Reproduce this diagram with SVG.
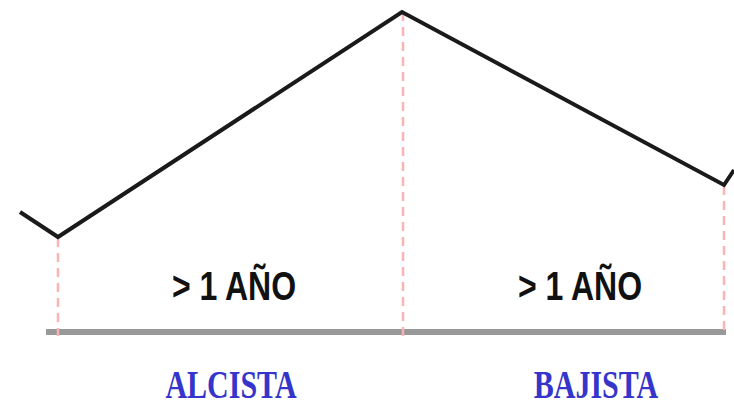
<svg xmlns="http://www.w3.org/2000/svg" width="734" height="406" viewBox="0 0 734 406">
<style>
.trend{fill:none;stroke:#1a1a1a;stroke-width:4;stroke-linejoin:miter}
.guide{stroke:#fbb4b4;stroke-width:2.5;stroke-dasharray:9,6}
.base{stroke:#999;stroke-width:6}
.dur{font-family:"Liberation Sans",Arial,sans-serif;font-weight:bold;font-size:32px;fill:#111;text-anchor:middle}
.phase{font-family:"Liberation Serif","Times New Roman",serif;font-weight:bold;font-size:30px;fill:#3535cc;text-anchor:middle}
</style>
<rect width="734" height="406" fill="#fff"/>
<g id="connectors">
<line class="base" x1="46" y1="332" x2="726" y2="332"/>
<line class="guide" x1="58" y1="238" x2="58" y2="336"/>
<line class="guide" x1="403" y1="12" x2="403" y2="336"/>
<line class="guide" x1="724" y1="186" x2="724" y2="336"/>
<polyline class="trend" points="20,212 58,237 402,12 724,185 734,170"/>
</g>
<g id="label-alcista-duration"><text class="dur" transform="translate(234,300) scale(1,1.25)">&gt; 1 AÑO</text></g>
<g id="label-bajista-duration"><text class="dur" transform="translate(580,300) scale(1,1.25)">&gt; 1 AÑO</text></g>
<g id="label-alcista"><text class="phase" transform="translate(231,398) scale(1,1.3)">ALCISTA</text></g>
<g id="label-bajista"><text class="phase" transform="translate(596,398) scale(1,1.3)">BAJISTA</text></g>
</svg>
